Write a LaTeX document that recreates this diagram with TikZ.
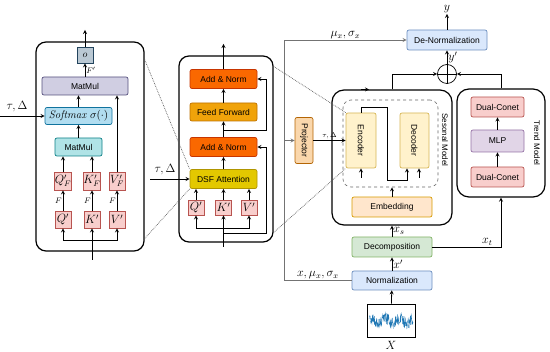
\documentclass[tikz,border=0pt]{standalone}
\usepackage{amsmath}
\usepackage{graphicx}
\usepackage{fontspec}
\setsansfont{Liberation Sans}
\usepackage{tikz}
\definecolor{outfill}{HTML}{BAC8D3}
\definecolor{outline}{HTML}{23445D}
\definecolor{purfill}{HTML}{D0CEE2}
\definecolor{purline}{HTML}{56517E}
\definecolor{bluefill}{HTML}{B1DDF0}
\definecolor{blueline}{HTML}{10739E}
\definecolor{tealfill}{HTML}{B0E3E6}
\definecolor{tealline}{HTML}{0E8088}
\definecolor{redfill}{HTML}{F8CECC}
\definecolor{redline}{HTML}{B85450}
\definecolor{orangefill}{HTML}{FA6800}
\definecolor{orangeline}{HTML}{C73500}
\definecolor{amberfill}{HTML}{F0A30A}
\definecolor{amberline}{HTML}{BD7000}
\definecolor{yellowfill}{HTML}{E3C800}
\definecolor{yellowline}{HTML}{B09500}
\definecolor{projfill}{HTML}{FAD7AC}
\definecolor{projline}{HTML}{B46504}
\definecolor{creamfill}{HTML}{FFF2CC}
\definecolor{creamline}{HTML}{D6B656}
\definecolor{peachfill}{HTML}{FFE6CC}
\definecolor{peachline}{HTML}{D79B00}
\definecolor{greenfill}{HTML}{D5E8D4}
\definecolor{greenline}{HTML}{82B366}
\definecolor{skyfill}{HTML}{DAE8FC}
\definecolor{skyline}{HTML}{6C8EBF}
\definecolor{lilacfill}{HTML}{E1D5E7}
\definecolor{lilacline}{HTML}{9673A6}
\definecolor{seriesblue}{HTML}{1F77B4}

\begin{document}
\begin{tikzpicture}[x=1pt, y=-1pt,
  box/.style={draw, rounded corners=2pt, inner sep=1pt, line width=0.7pt, font=\sffamily\fontsize{8.5}{10}\selectfont, align=center},
  qkv/.style={draw=redline, fill=redfill, line width=0.7pt, inner sep=0pt, minimum width=16pt, font=\fontsize{11.5}{12}\selectfont},
  frame/.style={draw, line width=1.2pt, rounded corners=10pt, inner sep=0pt},
  arr/.style={->, >=stealth, line width=0.8pt},
  zoomline/.style={densely dotted, black!65, line width=0.7pt},
  lbl/.style={inner sep=1pt, font=\large},
  sidelbl/.style={font=\sffamily\fontsize{8}{9}\selectfont, inner sep=0pt}
]
  \useasboundingbox (0,0) rectangle (550,352);

  % attention detail
  \node[frame, minimum width=108pt, minimum height=209pt] (attn) at (90,146.5) {};
  \node[box, draw=outline, fill=outfill, rounded corners=0pt, minimum size=16pt, font=\normalsize] (o) at (85,55) {$o$};
  \node[box, draw=purline, fill=purfill, minimum width=86pt, minimum height=18pt] (mmtop) at (85,86) {MatMul};
  \node[box, draw=blueline, fill=bluefill, minimum width=67pt, minimum height=17pt, font=\fontsize{11}{12}\selectfont] (soft) at (78.5,116) {$\mathit{Softmax}\ \sigma(\cdot)$};
  \node[box, draw=tealline, fill=tealfill, minimum width=47pt, minimum height=18pt] (mmlow) at (78.5,147) {MatMul};
  \node[qkv, minimum height=18pt] (qf) at (63,181) {$Q'_F$};
  \node[qkv, minimum height=18pt] (kf) at (92,181) {$K'_F$};
  \node[qkv, minimum height=18pt] (vf) at (117,181) {$V'_F$};
  \node[qkv, minimum height=17pt] (q) at (63,219.5) {$Q'$};
  \node[qkv, minimum height=17pt] (k) at (92,219.5) {$K'$};
  \node[qkv, minimum height=17pt] (v) at (117,219.5) {$V'$};
  \coordinate (attnin) at (92,260);
  \coordinate (attnsplit) at (92,240);
  \coordinate (attnout) at (85,30);
  \coordinate (tauin) at (0,116);
  \node[lbl] (tauleft) at (17,107) {$\tau,\Delta$};

  \draw (attnin) -- (attnsplit);
  \draw[arr] (attnsplit) -| (q);
  \draw[arr] (attnsplit) -- (k);
  \draw[arr] (attnsplit) -| (v);
  \draw[arr] (q) -- node[left, inner sep=1pt, font=\footnotesize]{$F$} (qf);
  \draw[arr] (k) -- node[left, inner sep=1pt, font=\footnotesize]{$F$} (kf);
  \draw[arr] (v) -- node[left, inner sep=1pt, font=\footnotesize]{$F$} (vf);
  \draw[arr] (qf) -- (qf |- mmlow.south);
  \draw[arr] (kf) -- (kf |- mmlow.south);
  \draw[arr] (vf) -- (vf |- mmtop.south);
  \draw[arr] (mmlow) -- (soft);
  \draw[arr] (soft.north) -- (soft.north |- mmtop.south);
  \draw[arr] (mmtop) -- node[right, inner sep=1pt, font=\footnotesize]{$F'$} (o);
  \draw[arr] (o) -- (attnout);
  \draw[arr] (tauin) -- (soft);

  % encoder layer
  \node[frame, minimum width=94pt, minimum height=186pt] (layer) at (226,149) {};
  \node[box, draw=orangeline, fill=orangefill, minimum width=67pt, minimum height=19pt] (addtop) at (223.5,79) {Add \& Norm};
  \node[box, draw=amberline, fill=amberfill, minimum width=67pt, minimum height=18pt] (ffn) at (223.5,112) {Feed Forward};
  \node[box, draw=orangeline, fill=orangefill, minimum width=67pt, minimum height=19pt] (addlow) at (223.5,147) {Add \& Norm};
  \node[box, draw=yellowline, fill=yellowfill, minimum width=67pt, minimum height=19pt] (dsf) at (223.5,179) {DSF Attention};
  \node[qkv, minimum height=15pt] (q2) at (196,207.5) {$Q'$};
  \node[qkv, minimum height=15pt] (k2) at (223.5,207.5) {$K'$};
  \node[qkv, minimum height=15pt] (v2) at (249,207.5) {$V'$};
  \coordinate (layerin) at (223.5,247);
  \coordinate (layersplit) at (223.5,228);
  \coordinate (resone) at (223.5,233);
  \coordinate (restwo) at (223.5,130);
  \coordinate (layerout) at (223.5,44);
  \coordinate (taumid) at (150,179);
  \node[lbl] (taumidlbl) at (165,170) {$\tau,\Delta$};

  \draw (layerin) -- (resone) -- (layersplit);
  \draw[arr] (layersplit) -| (q2);
  \draw[arr] (layersplit) -- (k2);
  \draw[arr] (layersplit) -| (v2);
  \draw[arr] (q2) -- (q2 |- dsf.south);
  \draw[arr] (k2) -- (dsf);
  \draw[arr] (v2) -- (v2 |- dsf.south);
  \draw[arr] (dsf) -- (addlow);
  \draw[arr] (addlow) -- (ffn);
  \draw[arr] (ffn) -- (addtop);
  \draw[arr] (addtop) -- (layerout);
  \draw[arr] (resone) -| ([xshift=9pt]addlow.east) -- (addlow.east);
  \draw[arr] (restwo) -| ([xshift=9pt]addtop.east) -- (addtop.east);
  \draw[arr] (taumid) -- (dsf);

  % seasonal model
  \node[frame, rounded corners=12pt, minimum width=120pt, minimum height=135pt] (seas) at (392,157.5) {};
  \node[draw=black!60, dashed, rounded corners=8pt, line width=0.6pt, minimum width=95pt, minimum height=87pt] (inner) at (390.5,143.5) {};
  \node[box, draw=creamline, fill=creamfill, minimum width=30pt, minimum height=55pt] (enc) at (361,140.5) {\rotatebox{-90}{Encoder}};
  \node[box, draw=creamline, fill=creamfill, minimum width=29pt, minimum height=55pt] (dec) at (414.5,140.5) {\rotatebox{-90}{Decoder}};
  \node[sidelbl] (seaslbl) at (445,140) {\rotatebox{-90}{Sesonal Model}};
  \node[box, draw=peachline, fill=peachfill, minimum width=80pt, minimum height=20pt] (emb) at (392,207) {Embedding};
  \node[box, draw=projline, fill=projfill, minimum width=18pt, minimum height=46pt] (proj) at (304,140.5) {\rotatebox{-90}{Projector}};
  \coordinate (encin) at (361,178);
  \coordinate (decin) at (419,178);

  \draw[arr] (emb) -- (emb |- inner.south);
  \draw[arr] (enc.north) |- (387,107) |- (407,180) -- ([xshift=-7.5pt]dec.south);
  \draw[arr] (encin) -- (enc.south);
  \draw[arr] (decin) -- (decin |- dec.south);
  \draw[arr] ([xshift=-31pt]seas.north) -- ([xshift=-23pt]seas.north);
  \draw[arr] (proj) -- node[above, inner sep=1pt, font=\scriptsize]{$\tau,\Delta$} (enc);

  % trend model
  \node[frame, rounded corners=12pt, minimum width=88pt, minimum height=108pt] (trend) at (501,143) {};
  \node[box, draw=redline, fill=redfill, minimum width=53pt, minimum height=20pt] (dcup) at (497.5,107) {Dual-Conet};
  \node[box, draw=lilacline, fill=lilacfill, minimum width=53pt, minimum height=22pt] (mlp) at (497.5,141) {MLP};
  \node[box, draw=redline, fill=redfill, minimum width=53pt, minimum height=20pt] (dclow) at (497.5,177) {Dual-Conet};
  \node[sidelbl] (trendlbl) at (537,143) {\rotatebox{-90}{Trend Model}};
  \draw[arr] (dclow) -- (mlp);
  \draw[arr] (mlp) -- (dcup);

  % input and output chain
  \node[box, draw=greenline, fill=greenfill, minimum width=80pt, minimum height=20pt] (decomp) at (392,247) {Decomposition};
  \node[box, draw=skyline, fill=skyfill, minimum width=80pt, minimum height=19pt] (norm) at (392,280.5) {Normalization};
  \node[draw, line width=0.6pt, minimum width=48pt, minimum height=33pt, inner sep=0pt] (series) at (391,320.5) {};
  \pgfmathsetseed{11}
  \draw[seriesblue, line width=0.35pt] plot[domain=369:413, samples=150] (\x, {321+6*rand+2.5*sin(\x*25)});
  \node[lbl] (xin) at (391,345) {$X$};
  \node[box, draw=skyline, fill=skyfill, minimum width=80pt, minimum height=20pt] (denorm) at (447,40) {De-Normalization};
  \node[circle, draw, line width=0.7pt, minimum size=19pt, inner sep=0pt] (sum) at (447,74) {};
  \draw[line width=0.7pt] (sum.north) -- (sum.south) (sum.west) -- (sum.east);
  \node[lbl] (yout) at (447,9) {$y$};
  \coordinate (bus) at (284,280.5);

  \draw[arr] (series) -- (norm);
  \draw[arr] (norm) -- node[right, lbl]{$x'$} (decomp);
  \draw[arr] (decomp) -- node[right, lbl]{$x_s$} (seas.south);
  \draw[arr] (decomp) -| node[above, lbl, pos=0.4]{$x_t$} (trend.south);
  \draw[arr] (seas.north) |- (sum.west);
  \draw[arr] (trend.north) |- (sum.east);
  \draw[arr] (sum) -- node[right, lbl]{$y'$} (denorm);
  \draw[arr] (denorm) -- (yout);
  \draw[black!55, line width=0.8pt] (norm.west) -- node[above, lbl, black]{$x,\mu_x,\sigma_x$} (bus);
  \draw[arr, black!55] (bus) |- node[above, lbl, black, pos=0.75]{$\mu_x,\sigma_x$} (denorm.west);
  \draw[arr, black!55] (bus |- proj) -- (proj);

  % zoom guides
  \draw[zoomline] ([yshift=-18pt]attn.north east) -- (dsf.north west);
  \draw[zoomline] ([yshift=13pt]attn.south east) -- (dsf.south west);
  \draw[zoomline] ([yshift=-11pt]layer.north east) -- (enc.north west);
  \draw[zoomline] ([yshift=10pt]layer.south east) -- (enc.south west);
\end{tikzpicture}
\end{document}
